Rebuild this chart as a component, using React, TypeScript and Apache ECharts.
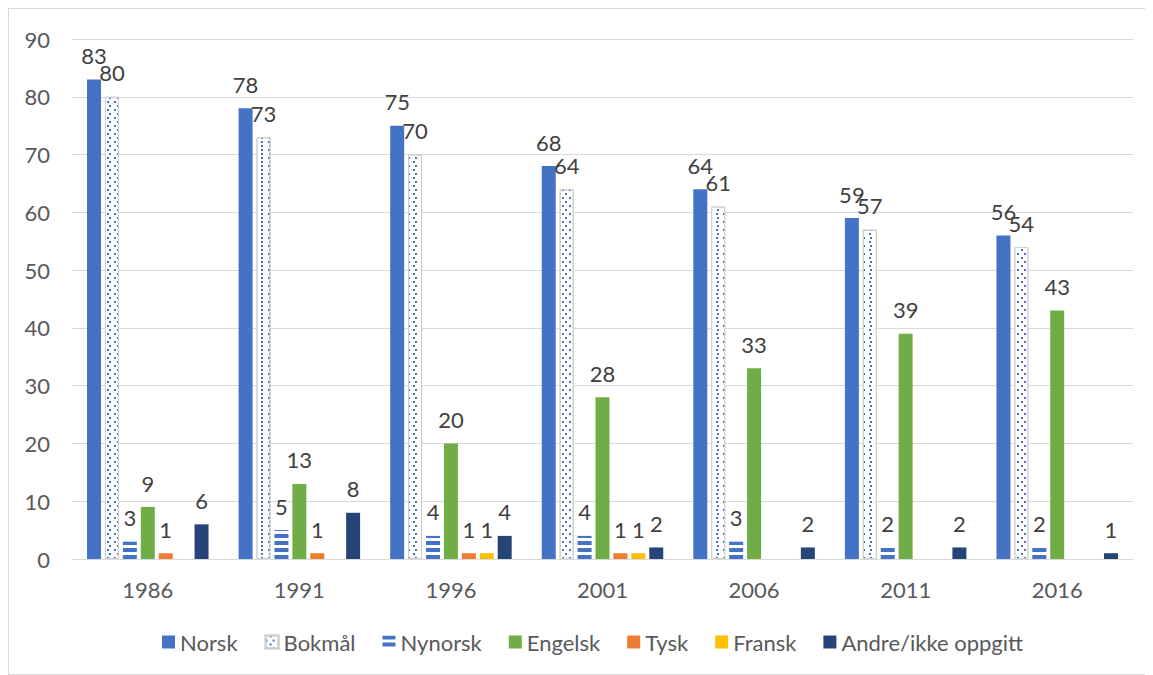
import React, { useEffect, useRef } from "react";
import * as echarts from "echarts";

const years = ["1986", "1991", "1996", "2001", "2006", "2011", "2016"];
const norsk = [83, 78, 75, 68, 64, 59, 56];
const bokmal = [80, 73, 70, 64, 61, 57, 54];
const nynorsk = [3, 5, 4, 4, 3, 2, 2];
const engelsk = [9, 13, 20, 28, 33, 39, 43];
const tysk = [1, 1, 1, 1, null, null, null];
const fransk = [null, null, 1, 1, null, null, null];
const andre = [6, 8, 4, 2, 2, 2, 1];

const FONT = "Lato, 'Liberation Sans', sans-serif";
const FS = 22;

export default function App() {
  const ref = useRef<HTMLDivElement>(null);

  useEffect(() => {
    if (!ref.current) return;
    const chart = echarts.init(ref.current, undefined, { renderer: "svg" });

    const label = {
      show: true,
      position: "top",
      distance: 13,
      color: "#404040",
      fontSize: FS,
      fontFamily: FONT,
    };

    const bar = (name: string, data: (number | null)[], itemStyle: any) => ({
      name,
      type: "bar",
      data,
      barWidth: 14,
      barGap: "28%",
      itemStyle,
      label,
    });

    chart.setOption({
      animation: false,
      textStyle: { fontFamily: FONT },
      grid: { left: 63, right: 19, top: 30, bottom: 115 },
      legend: {
        bottom: 16,
        left: 148,
        itemWidth: 13,
        itemHeight: 13,
        itemGap: 27,
        icon: "rect",
        textStyle: { color: "#595959", fontSize: FS, fontFamily: FONT },
      },
      xAxis: {
        type: "category",
        data: years,
        axisLine: { lineStyle: { color: "#D9D9D9", width: 1 } },
        axisTick: { show: false },
        axisLabel: { color: "#595959", fontSize: FS, fontFamily: FONT, margin: 19 },
      },
      yAxis: {
        type: "value",
        min: 0,
        max: 90,
        interval: 10,
        axisLine: { show: false },
        axisTick: { show: false },
        splitLine: { lineStyle: { color: "#D9D9D9", width: 1 } },
        axisLabel: { color: "#595959", fontSize: FS, fontFamily: FONT, margin: 22 },
      },
      series: [
        bar("Norsk", norsk, { color: "#4472C4" }),
        bar("Bokmål", bokmal, {
          color: "#FFFFFF",
          borderColor: "#D0D0D0",
          borderWidth: 1,
          decal: {
            symbol: "rect",
            symbolSize: 1,
            color: "#4472C4",
            dashArrayX: [
              [2, 5],
              [0, 3.5, 2, 1.5],
            ],
            dashArrayY: [2, 2],
          },
        }),
        bar("Nynorsk", nynorsk, {
          color: "#FFFFFF",
          decal: {
            symbol: "rect",
            symbolSize: 1,
            color: "#4472C4",
            dashArrayX: [[1, 0]],
            dashArrayY: [4, 3],
          },
        }),
        bar("Engelsk", engelsk, { color: "#70AD47" }),
        bar("Tysk", tysk, { color: "#ED7D31" }),
        bar("Fransk", fransk, { color: "#FFC000" }),
        bar("Andre/ikke oppgitt", andre, { color: "#264478" }),
      ],
    });

    return () => chart.dispose();
  }, []);

  return (
    <div
      style={{
        width: 1145,
        height: 667,
        border: "1px solid #D9D9D9",
        boxSizing: "border-box",
        background: "#FFFFFF",
      }}
    >
      <div ref={ref} style={{ width: 1143, height: 665 }} />
    </div>
  );
}
